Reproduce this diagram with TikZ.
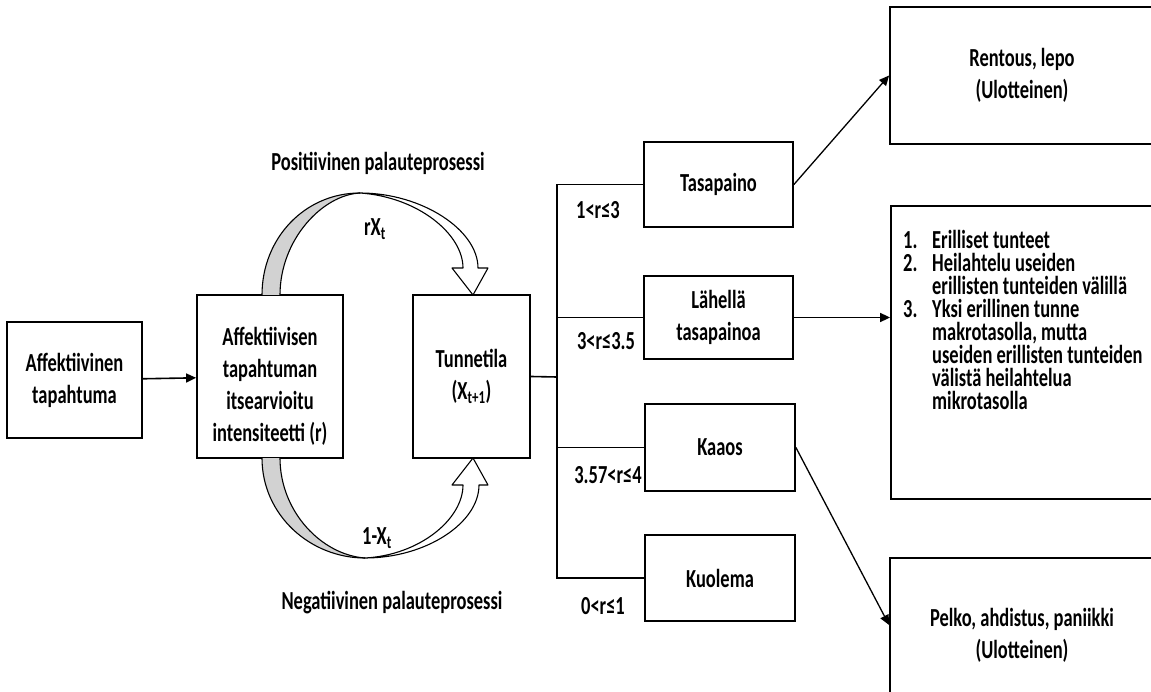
\documentclass[tikz,border=0pt]{standalone}
\usepackage{fontspec}
\setmainfont{Carlito}[FakeStretch=0.71]
\usetikzlibrary{arrows.meta,calc}

\tikzset{
  lbl/.style={inner sep=0pt, align=center,
    font=\bfseries\fontsize{26}{32}\selectfont},
  box/.style={draw, line width=1.8pt, inner sep=0pt, fill=white, lbl},
  link/.style={line width=1.6pt},
  tip/.style={-{Triangle[length=10pt,width=9pt]}},
  ribbon/.style={draw, line width=1.1pt, line join=round},
}
\newcommand{\num}[1]{\makebox[29pt][l]{#1}}

\begin{document}
\begin{tikzpicture}[x=1pt,y=-1pt]
\useasboundingbox (0,0) rectangle (1151,692);
\clip (0,0) rectangle (1151,692);

% main chain
\node[box, minimum width=135, minimum height=116] (A) at (74.5,380)
  {Affektiivinen\\tapahtuma};
\node[box, minimum width=146, minimum height=163] (B) at (270,376.5) {};
\node[lbl] (Btext) at (270,386)
  {Affektiivisen\\tapahtuman\\itsearvioitu\\intensiteetti (r)};
\node[box, minimum width=117, minimum height=163] (C) at (471.5,376.5)
  {Tunnetila\\(X\textsubscript{t+1})};

\draw[link,tip] (A) -- (B);

% feedback loops: grey underside and white front of each curved arrow
\fill[gray!35] (262,295) .. controls (262,238) and (305,193) .. (360,193)
  .. controls (322,195) and (280,240) .. (280,295) -- cycle;
\draw[line width=1.1pt] (262,295) .. controls (262,238) and (305,193) .. (360,193);
\draw[line width=1.1pt] (280,295) .. controls (280,240) and (322,195) .. (360,193);
\filldraw[ribbon, fill=white] (360,193) .. controls (422,193) and (478,230) .. (478,268)
  -- (488,268) -- (473,295) -- (452,268) -- (463,268)
  .. controls (463,234) and (418,197) .. (360,193) -- cycle;

\fill[gray!35] (262,458) .. controls (262,515) and (310,558) .. (365,558)
  .. controls (322,555) and (280,512) .. (280,458) -- cycle;
\draw[line width=1.1pt] (262,458) .. controls (262,515) and (310,558) .. (365,558);
\draw[line width=1.1pt] (280,458) .. controls (280,512) and (322,555) .. (365,558);
\filldraw[ribbon, fill=white] (365,558) .. controls (426,558) and (479,523) .. (479,485)
  -- (488,485) -- (473,458) -- (452,485) -- (463,485)
  .. controls (463,519) and (420,555) .. (365,558) -- cycle;

\node[lbl] (pos) at (378,163) {Positiivinen palauteprosessi};
\node[lbl] (rx) at (375,229) {rX\textsubscript{t}};
\node[lbl] (onex) at (377,538) {1-X\textsubscript{t}};
\node[lbl] (neg) at (392,603) {Negatiivinen palauteprosessi};

% regimes
\node[box, minimum width=149, minimum height=85] (T) at (718.5,184.5) {Tasapaino};
\node[box, minimum width=149, minimum height=83] (L) at (718.5,317.5) {Lähellä\\tasapainoa};
\node[box, minimum width=150, minimum height=87] (K) at (720,447.5) {Kaaos};
\node[box, minimum width=150, minimum height=86] (Ku) at (720,578) {Kuolema};

\coordinate (J) at (557,377);
\draw[link] (C.east) -- (J);
\draw[link] (T.west) -- (T.west -| J) -- (Ku.west -| J) -- (Ku.west);
\draw[link] (L.west -| J) -- (L.west);
\draw[link] (K.west -| J) -- (K.west);

\node[lbl] (r1) at (598,210) {1<r≤3};
\node[lbl] (r2) at (606,341) {3<r≤3.5};
\node[lbl] (r3) at (608,475) {3.57<r≤4};
\node[lbl] (r4) at (603,606) {0<r≤1};

% outcomes
\node[box, minimum width=264, minimum height=137] (R1) at (1022,75.5)
  {Rentous, lepo\\(Ulotteinen)};
\node[box, minimum width=263, minimum height=293] (R2) at (1022.5,352.5) {};
\node[lbl, anchor=north west, align=left, font=\bfseries\fontsize{26}{23}\selectfont]
  (R2list) at (903,230)
  {\num{1.}Erilliset tunteet\\
   \num{2.}Heilahtelu useiden\\
   \num{}erillisten tunteiden välillä\\
   \num{3.}Yksi erillinen tunne\\
   \num{}makrotasolla, mutta\\
   \num{}useiden erillisten tunteiden\\
   \num{}välistä heilahtelua\\
   \num{}mikrotasolla};
\node[box, minimum width=264, minimum height=154] (R3) at (1022,635)
  {Pelko, ahdistus, paniikki\\(Ulotteinen)};

\draw[line width=1.3pt,tip] (T.east) -- (R1.west);
\draw[link,tip] (L.east) -- (L.east -| R2.west);
\draw[line width=1.3pt,tip] (K.east) -- ([yshift=10pt]R3.west);
\end{tikzpicture}
\end{document}
